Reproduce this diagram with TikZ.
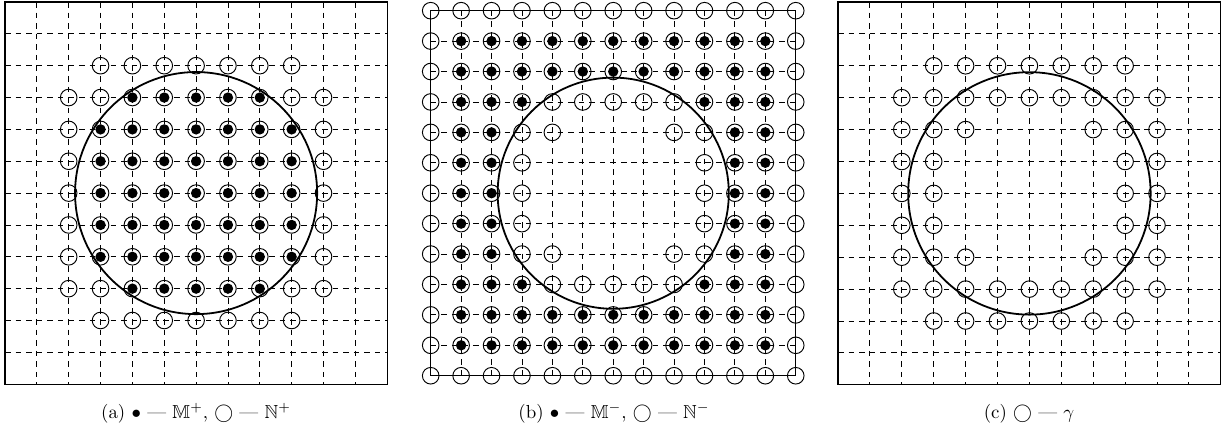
\documentclass[tikz,border=0pt]{standalone}
\usepackage{amssymb}
\newcommand\drawpanel[4]{%
  \foreach \k in {1,...,11}{%
    \draw[gridline] ({#1+\k*#3},{#2}) -- ({#1+\k*#3},{#2+12*#3});
    \draw[gridline] ({#1},{#2+\k*#3}) -- ({#1+12*#3},{#2+\k*#3});
  }%
  \foreach \i in {0,...,12}{\foreach \j in {0,...,12}{%
    \pgfmathsetmacro\dx{abs(\i-6)}%
    \pgfmathsetmacro\dy{abs(\j-6)}%
    \pgfmathsetmacro\dd{\dx*\dx+\dy*\dy}%
    \pgfmathsetmacro\mn{(max(\dx-1,0))^2+(max(\dy-1,0))^2}%
    \pgfmathsetmacro\mx{(\dx+1)^2+(\dy+1)^2}%
    \pgfmathtruncatemacro\bd{(\i==0)||(\i==12)||(\j==0)||(\j==12)}%
    \pgfmathtruncatemacro\Mp{\dd<14.44}%
    \pgfmathtruncatemacro\Np{(\dd>14.44)&&(\mn<14.44)}%
    \pgfmathtruncatemacro\Ni{(\dd<14.44)&&(\mx>14.44)}%
    \pgfmathtruncatemacro\Nm{(\bd==1)||(\Ni==1)}%
    \pgfmathtruncatemacro\Mm{(\bd==0)&&(\dd>14.44)}%
    \ifcase#4
      \pgfmathtruncatemacro\isring{(\Mp==1)||(\Np==1)}\pgfmathtruncatemacro\isdot{\Mp}%
    \or
      \pgfmathtruncatemacro\isring{(\Mm==1)||(\Nm==1)}\pgfmathtruncatemacro\isdot{\Mm}%
    \else
      \pgfmathtruncatemacro\isring{(\Np==1)||(\Ni==1)}\def\isdot{0}%
    \fi
    \ifnum\isring=1 \draw[ringline] ({#1+\i*#3},{#2+\j*#3}) circle[radius=8.3];\fi
    \ifnum\isdot=1 \fill ({#1+\i*#3},{#2+\j*#3}) circle[radius=5.2];\fi
  }}%
  \draw[bigcircle] ({#1+6*#3},{#2+6*#3}) circle[radius={3.8*#3}];
  \draw[frameline] (#1,#2) rectangle ({#1+12*#3},{#2+12*#3});
}
\begin{document}
\begin{tikzpicture}[x=0.53pt,y=-0.53pt,
  gridline/.style={dash pattern=on 3pt off 2.6pt, line width=0.45pt},
  frameline/.style={line width=0.7pt},
  bigcircle/.style={line width=0.95pt},
  ringline/.style={line width=0.5pt},
  caption/.style={anchor=base, inner sep=0pt, font=\normalsize}]
\useasboundingbox (0,0) rectangle (1225,432);
\drawpanel{5}{2}{31.85}{0}
\drawpanel{430.7}{10.7}{30.42}{1}
\drawpanel{838}{2}{31.9}{2}
\node[caption] (capa) at (196,418) {(a) $\bullet$ --- $\mathbb{M}^+$, $\bigcirc$ --- $\mathbb{N}^+$};
\node[caption] (capb) at (614,418) {(b) $\bullet$ --- $\mathbb{M}^-$, $\bigcirc$ --- $\mathbb{N}^-$};
\node[caption] (capc) at (1029,418) {(c) $\bigcirc$ --- $\gamma$};
\end{tikzpicture}
\end{document}
